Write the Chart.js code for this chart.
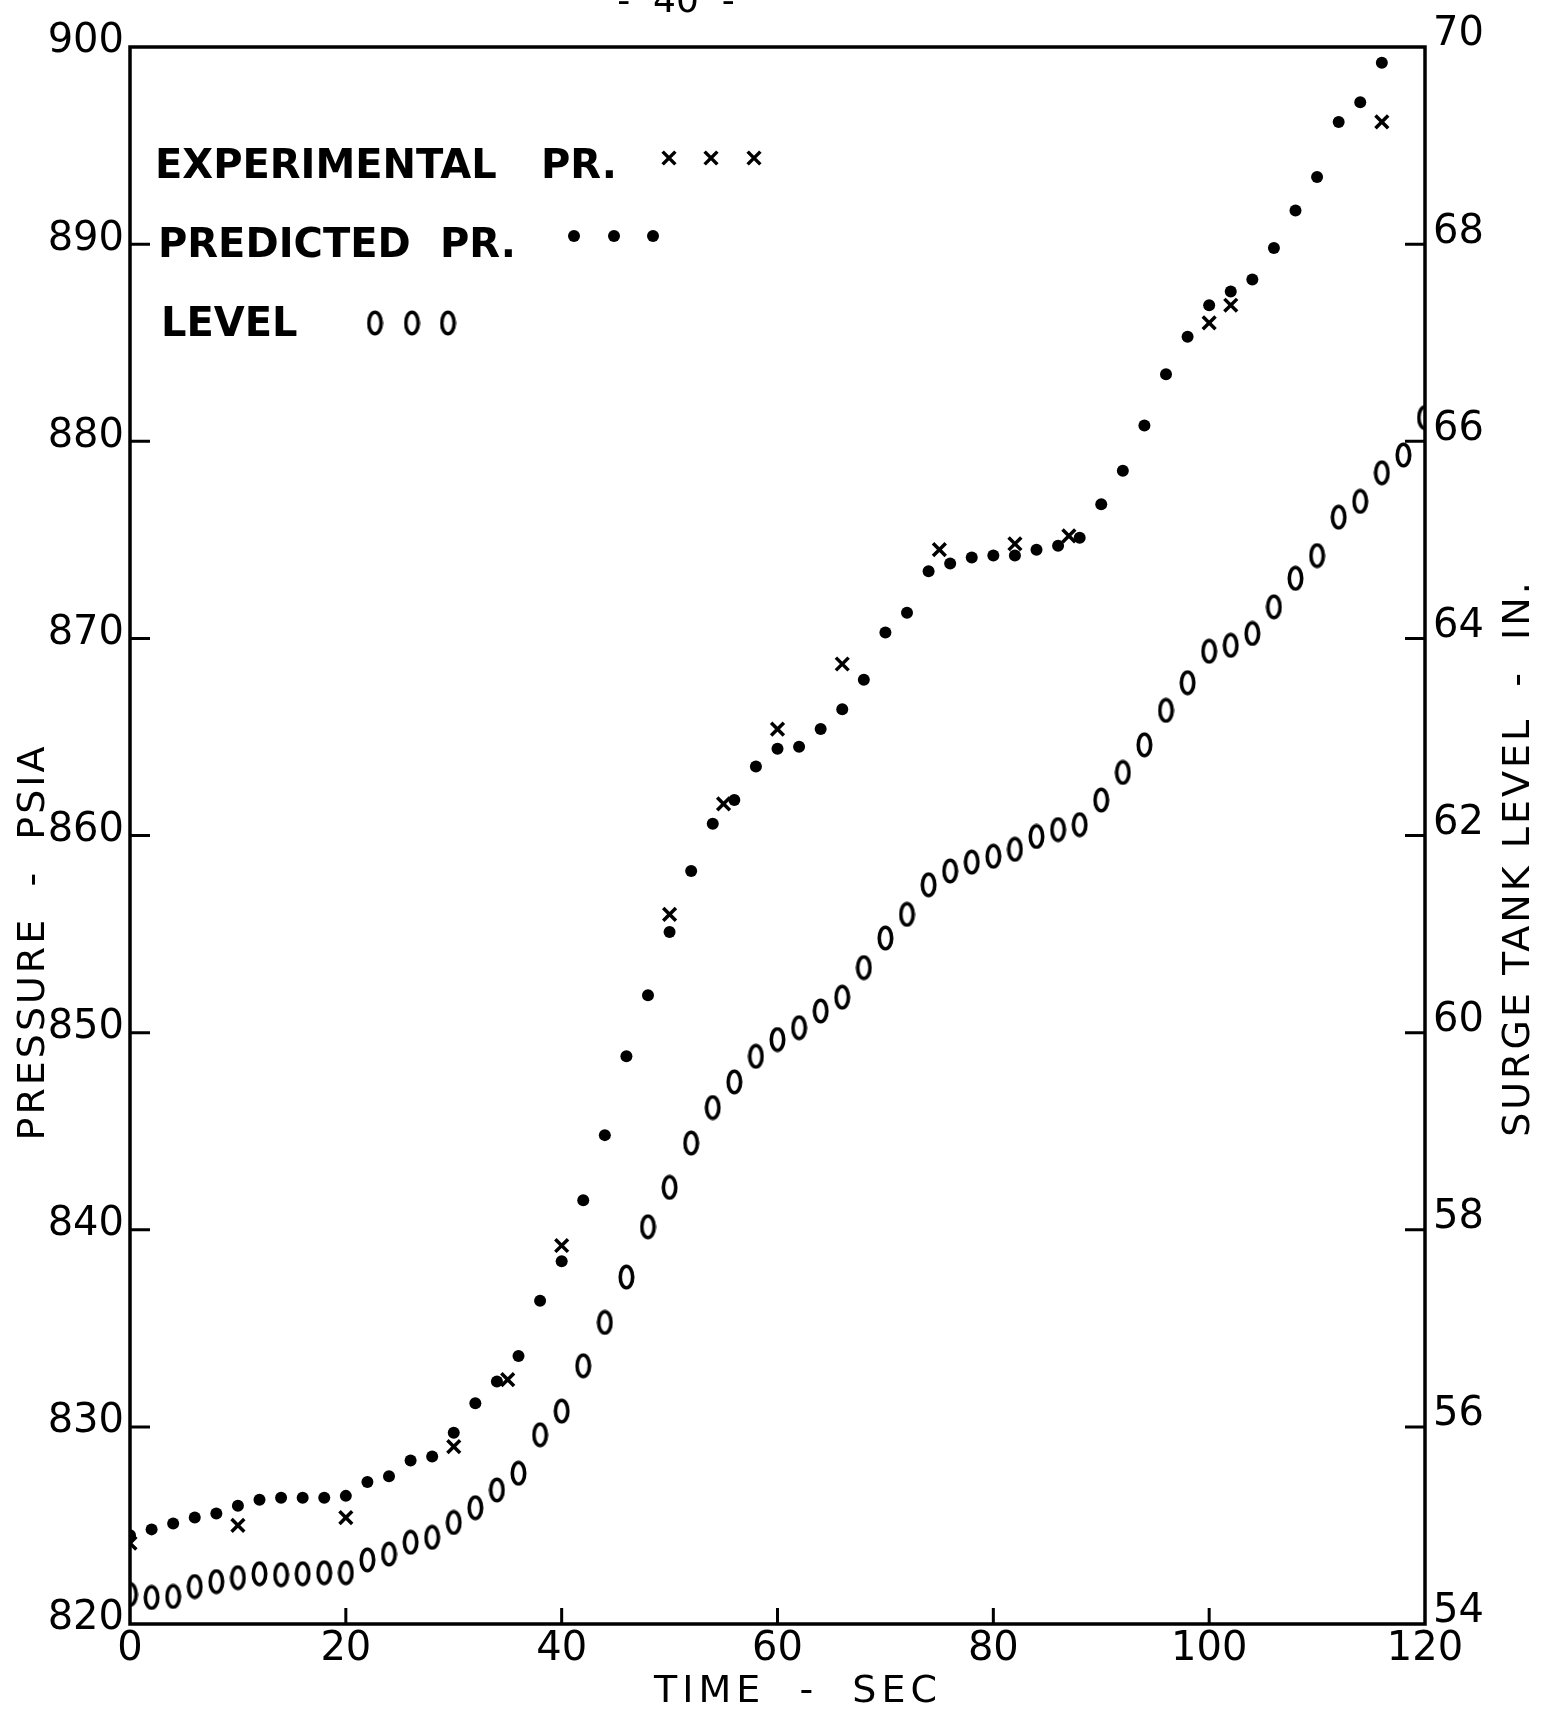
<!DOCTYPE html>
<html>
<head>
<meta charset="utf-8">
<title>Pressure and surge tank level vs time</title>
<script src="https://cdn.jsdelivr.net/npm/chart.js@4.4.1/dist/chart.umd.min.js"></script>
<style>
  html, body { margin: 0; padding: 0; background: #fff; }
  #wrap { width: 1556px; height: 1713px; }
</style>
</head>
<body>
<div id="wrap"><canvas id="chart" width="1556" height="1713"></canvas></div>
<script>
// time - sec
const predTime = [0, 2, 4, 6, 8, 10, 12, 14, 16, 18, 20, 22, 24, 26, 28, 30, 32, 34, 36, 38,
  40, 42, 44, 46, 48, 50, 52, 54, 56, 58, 60, 62, 64, 66, 68, 70, 72, 74, 76, 78,
  80, 82, 84, 86, 88, 90, 92, 94, 96, 98, 100, 102, 104, 106, 108, 110, 112, 114, 116];
// predicted pressure - psia
const predPressure = [824.5, 824.8, 825.1, 825.4, 825.6, 826.0, 826.3, 826.4, 826.4, 826.4,
  826.5, 827.2, 827.5, 828.3, 828.5, 829.7, 831.2, 832.3, 833.6, 836.4,
  838.4, 841.5, 844.8, 848.8, 851.9, 855.1, 858.2, 860.6, 861.8, 863.5,
  864.4, 864.5, 865.4, 866.4, 867.9, 870.3, 871.3, 873.4, 873.8, 874.1,
  874.2, 874.2, 874.5, 874.7, 875.1, 876.8, 878.5, 880.8, 883.4, 885.3,
  886.9, 887.6, 888.2, 889.8, 891.7, 893.4, 896.2, 897.2, 899.2];

// experimental pressure
const expTime = [0, 10, 20, 30, 35, 40, 50, 55, 60, 66, 75, 82, 87, 100, 102, 116];
const expPressure = [824.1, 825.0, 825.4, 829.0, 832.4, 839.2, 856.0, 861.6, 865.4, 868.7,
  874.5, 874.8, 875.2, 886.0, 886.9, 896.2];

// surge tank level - in.
const levelTime = [0, 2, 4, 6, 8, 10, 12, 14, 16, 18, 20, 22, 24, 26, 28, 30, 32, 34, 36, 38,
  40, 42, 44, 46, 48, 50, 52, 54, 56, 58, 60, 62, 64, 66, 68, 70, 72, 74, 76, 78,
  80, 82, 84, 86, 88, 90, 92, 94, 96, 98, 100, 102, 104, 106, 108, 110, 112, 114, 116, 118, 120];
const levelInches = [54.30, 54.27, 54.28, 54.38, 54.43, 54.47, 54.51, 54.50, 54.51, 54.52,
  54.52, 54.65, 54.71, 54.83, 54.88, 55.03, 55.18, 55.36, 55.53, 55.92,
  56.16, 56.62, 57.06, 57.52, 58.03, 58.43, 58.88, 59.24, 59.50, 59.76,
  59.93, 60.05, 60.22, 60.36, 60.66, 60.96, 61.20, 61.50, 61.64, 61.73,
  61.79, 61.86, 61.99, 62.06, 62.11, 62.36, 62.64, 62.92, 63.27, 63.55,
  63.87, 63.93, 64.05, 64.32, 64.61, 64.84, 65.23, 65.39, 65.68, 65.86, 66.24];

const timeTicks = [0, 20, 40, 60, 80, 100, 120];
const pressureTicks = [820, 830, 840, 850, 860, 870, 880, 890, 900];
const levelTicks = [54, 56, 58, 60, 62, 64, 66, 68, 70];

const FONT = '"DejaVu Sans", "Liberation Sans", sans-serif';

// the plotted "0" mark for level points
function makeZero(w, h, lw) {
    const c = document.createElement('canvas');
    c.width = w; c.height = h;
    const g = c.getContext('2d');
    g.strokeStyle = '#000';
    g.lineWidth = lw;
    g.beginPath();
    g.ellipse(w / 2, h / 2, w / 2 - lw / 2 - 0.5, h / 2 - lw / 2 - 0.5, 0, 0, Math.PI * 2);
    g.stroke();
    return c;
}
const zeroMark = makeZero(17, 26, 3.6);

const toPoints = (xs, ys) => xs.map((x, i) => ({ x: x, y: ys[i] }));

// frame + inward tick marks
const frameTicks = {
    id: 'frameTicks',
    beforeDatasetsDraw(chart) {
        const { ctx, chartArea: a, scales } = chart;
        ctx.save();
        ctx.strokeStyle = '#000';
        ctx.lineWidth = 3.5;
        ctx.strokeRect(a.left, a.top, a.right - a.left, a.bottom - a.top);
        ctx.lineWidth = 3;
        ctx.beginPath();
        timeTicks.slice(1, -1).forEach(v => {
            const x = scales.x.getPixelForValue(v);
            ctx.moveTo(x, a.bottom); ctx.lineTo(x, a.bottom - 16);
        });
        pressureTicks.slice(1, -1).forEach(v => {
            const y = scales.y.getPixelForValue(v);
            ctx.moveTo(a.left, y); ctx.lineTo(a.left + 20, y);
        });
        levelTicks.slice(1, -1).forEach(v => {
            const y = scales.y2.getPixelForValue(v);
            ctx.moveTo(a.right, y); ctx.lineTo(a.right - 20, y);
        });
        ctx.stroke();
        ctx.restore();
    }
};

// titles, legend, page number
const labels = {
    id: 'labels',
    afterDraw(chart) {
        const ctx = chart.ctx;
        ctx.save();
        ctx.fillStyle = '#000';
        ctx.strokeStyle = '#000';

        ctx.font = '36px ' + FONT;
        ctx.textAlign = 'center';
        ctx.textBaseline = 'alphabetic';
        ctx.fillText('-  40  -', 676, 12);

        // axis titles
        ctx.font = '38px ' + FONT;
        ctx.letterSpacing = '5px';
        ctx.textBaseline = 'middle';
        ctx.fillText('TIME  -  SEC', 798, 1692);

        ctx.letterSpacing = '3px';
        ctx.save();
        ctx.translate(34, 942);
        ctx.rotate(-Math.PI / 2);
        ctx.fillText('PRESSURE  -  PSIA', 0, 0);
        ctx.restore();

        ctx.save();
        ctx.translate(1519, 858);
        ctx.rotate(-Math.PI / 2);
        ctx.fillText('SURGE TANK LEVEL  -  IN.', 0, 0);
        ctx.restore();

        // legend
        ctx.font = 'bold 40px ' + FONT;
        ctx.letterSpacing = '0px';
        ctx.textAlign = 'left';
        ctx.textBaseline = 'alphabetic';
        ctx.fillText('EXPERIMENTAL', 155, 178);
        ctx.fillText('PR.', 541, 178);
        ctx.fillText('PREDICTED', 158, 257);
        ctx.fillText('PR.', 440, 257);
        ctx.fillText('LEVEL', 161, 336);

        ctx.lineWidth = 3.5;
        [669, 711, 754].forEach(x => {
            Chart.helpers.drawPoint(ctx, { pointStyle: 'crossRot', radius: 9, rotation: 0, borderWidth: 3.5 }, x, 158);
        });
        [574, 614, 653].forEach(x => {
            ctx.beginPath();
            ctx.arc(x, 236, 6, 0, Math.PI * 2);
            ctx.fill();
        });
        [375, 412, 448].forEach(x => {
            ctx.drawImage(zeroMark, x - zeroMark.width / 2, 323 - zeroMark.height / 2);
        });
        ctx.restore();
    }
};

const tickFont = { family: FONT, size: 40 };

new Chart(document.getElementById('chart'), {
    type: 'scatter',
    data: {
        datasets: [
            {
                label: 'EXPERIMENTAL PR.',
                data: toPoints(expTime, expPressure),
                yAxisID: 'y',
                pointStyle: 'crossRot',
                pointRadius: 9,
                borderColor: '#000',
                borderWidth: 3.5
            },
            {
                label: 'PREDICTED PR.',
                data: toPoints(predTime, predPressure),
                yAxisID: 'y',
                pointStyle: 'circle',
                pointRadius: 6,
                backgroundColor: '#000',
                borderColor: '#000',
                borderWidth: 0
            },
            {
                label: 'LEVEL',
                data: toPoints(levelTime, levelInches),
                yAxisID: 'y2',
                pointStyle: zeroMark,
                pointRadius: 9
            }
        ]
    },
    options: {
        responsive: false,
        devicePixelRatio: 1,
        animation: false,
        layout: { padding: { top: 47, left: 0, right: 0, bottom: 0 } },
        plugins: { legend: { display: false }, tooltip: { enabled: false } },
        scales: {
            x: {
                type: 'linear', position: 'bottom', min: 0, max: 120,
                afterBuildTicks: s => { s.ticks = timeTicks.map(v => ({ value: v })); },
                afterFit: s => { s.height = 89; },
                ticks: { font: tickFont, color: '#000', padding: 2, maxRotation: 0 },
                grid: { display: false, drawTicks: false },
                border: { display: false }
            },
            y: {
                type: 'linear', position: 'left', min: 820, max: 900,
                afterBuildTicks: s => { s.ticks = pressureTicks.map(v => ({ value: v })); },
                afterFit: s => { s.width = 130; },
                ticks: { font: tickFont, color: '#000', padding: 6, labelOffset: -5 },
                grid: { display: false, drawTicks: false },
                border: { display: false }
            },
            y2: {
                type: 'linear', position: 'right', min: 54, max: 70,
                afterBuildTicks: s => { s.ticks = levelTicks.map(v => ({ value: v })); },
                afterFit: s => { s.width = 131; },
                ticks: { font: tickFont, color: '#000', padding: 8, labelOffset: -12 },
                grid: { display: false, drawTicks: false },
                border: { display: false }
            }
        }
    },
    plugins: [frameTicks, labels]
});
</script>
</body>
</html>
